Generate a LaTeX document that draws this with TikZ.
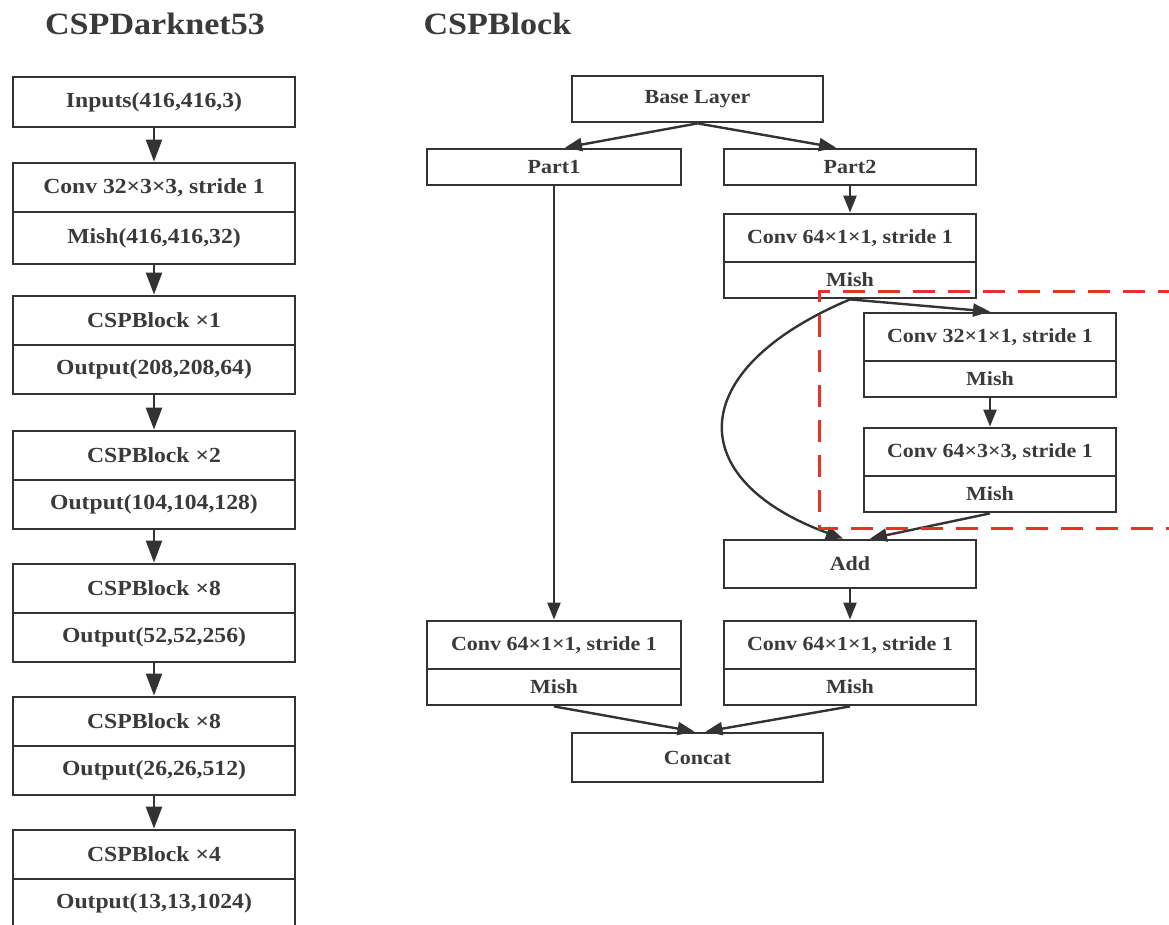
\documentclass[tikz,border=0pt]{standalone}
\usepackage{fontspec}
\setmainfont{Liberation Serif}[FakeStretch=1.1]
\usetikzlibrary{arrows.meta}
\definecolor{linec}{HTML}{333333}
\definecolor{textc}{HTML}{3A3A3A}
\definecolor{framered}{HTML}{E8312B}
\tikzset{
  layer/.style={draw=linec, line width=2.8pt, fill=white, inner sep=0pt, text=textc,
    font=\fontsize{21.5}{24}\selectfont\bfseries, minimum width=282pt, minimum height=49pt},
  cspbox/.style={layer, minimum width=252pt, minimum height=48pt,
    font=\fontsize{20}{24}\selectfont\bfseries},
  flow/.style={draw=linec, line width=2.4pt, -{Triangle[length=17pt,width=13pt]}},
  bigflow/.style={flow, -{Triangle[length=22pt,width=16pt]}},
  title/.style={text=textc, font=\fontsize{31}{36}\selectfont\bfseries},
}

\begin{document}
\begin{tikzpicture}[x=1pt,y=-1pt]
  \useasboundingbox (0,0) rectangle (1169,925);

  % titles
  \node[title] (ttl1) at (155,24) {CSPDarknet53};
  \node[title, anchor=west] (ttl2) at (420,24) {CSPBlock};

  % backbone column
  \node[layer, minimum height=50pt] (inp) at (154,102) {Inputs(416,416,3)};
  \node[layer] (blk0) at (154,187.5) {Conv 32×3×3, stride 1};
  \node[layer, minimum height=52pt] (out0) at (154,238) {Mish(416,416,32)};
  \draw[bigflow] (inp.south) -- (blk0.north);
  \foreach \n/\blk/\out/\top [remember=\n as \prev (initially 0)] in
    {1/{CSPBlock ×1}/{Output(208,208,64)}/296,
     2/{CSPBlock ×2}/{Output(104,104,128)}/431,
     3/{CSPBlock ×8}/{Output(52,52,256)}/564,
     4/{CSPBlock ×8}/{Output(26,26,512)}/697,
     5/{CSPBlock ×4}/{Output(13,13,1024)}/830} {
    \node[layer] (blk\n) at (154,\top+24.5) {\blk};
    \node[layer] (out\n) at (154,\top+73.5) {\out};
    \draw[bigflow] (out\prev.south) -- (blk\n.north);
  }

  % CSP block
  \node[cspbox, minimum width=251pt, minimum height=46pt] (base) at (697.5,99) {Base Layer};
  \node[cspbox, minimum width=254pt, minimum height=36pt] (part1) at (554,167) {Part1};
  \node[cspbox, minimum height=36pt] (part2) at (850,167) {Part2};
  \node[cspbox] (convA) at (850,238) {Conv 64×1×1, stride 1};
  \node[cspbox, minimum height=36pt] (mishA) at (850,280) {Mish};
  \node[cspbox] (convB) at (990,337) {Conv 32×1×1, stride 1};
  \node[cspbox, minimum height=36pt] (mishB) at (990,379) {Mish};
  \node[cspbox] (convC) at (990,452) {Conv 64×3×3, stride 1};
  \node[cspbox, minimum height=36pt] (mishC) at (990,494) {Mish};
  \node[cspbox] (add) at (850,564) {Add};
  \node[cspbox, minimum width=254pt] (convL) at (554,645) {Conv 64×1×1, stride 1};
  \node[cspbox, minimum width=254pt, minimum height=36pt] (mishL) at (554,687) {Mish};
  \node[cspbox] (convR) at (850,645) {Conv 64×1×1, stride 1};
  \node[cspbox, minimum height=36pt] (mishR) at (850,687) {Mish};
  \node[cspbox, minimum width=251pt, minimum height=49pt] (concat) at (697.5,757.5) {Concat};

  \draw[flow] (base.south) -- ([xshift=11pt]part1.north);
  \draw[flow] (base.south) -- ([xshift=-14pt]part2.north);
  \draw[flow] (part2.south) -- (convA.north);
  \draw[flow] (part1.south) -- (convL.north);
  \draw[flow] (mishA.south) -- (convB.north);
  \draw[flow] (mishA.south) .. controls (683,370) and (683,480) .. ([xshift=-7pt]add.north);
  \draw[flow] (mishB.south) -- (convC.north);
  \draw[flow] (mishC.south) -- ([xshift=20pt]add.north);
  \draw[flow] (add.south) -- (convR.north);
  \draw[flow] (mishL.south) -- ([xshift=-3pt]concat.north);
  \draw[flow] (mishR.south) -- ([xshift=8pt]concat.north);

  % residual part, red frame
  \draw[framered, line width=3pt, dash pattern=on 22pt off 13pt]
    (1180,291) -- (819,291) -- (819,528) -- (1180,528);
\end{tikzpicture}
\end{document}
